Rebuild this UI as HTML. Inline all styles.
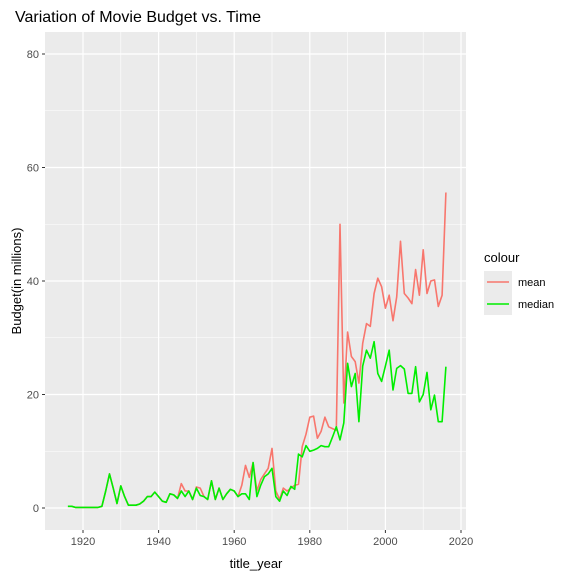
<!DOCTYPE html>
<html><head><meta charset="utf-8"><style>
body{margin:0;background:#fff;}
svg{display:block;font-family:"Liberation Sans",Arial,sans-serif;}
</style></head><body>
<svg id="chart" width="576" height="576">
<rect x="0" y="0" width="576" height="576" fill="#fff"/>
<text x="15" y="22" font-size="16" fill="#000">Variation of Movie Budget vs. Time</text>
<rect x="45" y="32" width="421" height="498" fill="#ebebeb"/>
<g id="grid"></g>
<g id="axes"></g>
<g id="series"></g>
<text x="256" y="568" font-size="13" text-anchor="middle" fill="#000">title_year</text>
<text transform="translate(21,281) rotate(-90)" font-size="13" text-anchor="middle" fill="#000">Budget(in millions)</text>
<g>
<text x="484" y="262" font-size="13" fill="#000">colour</text>
<g>
<rect x="484" y="271" width="28" height="22" fill="#ebebeb"/>
<line x1="487" y1="282" x2="509" y2="282" stroke="#f8766d" stroke-width="1.6"/>
<text x="518" y="286" font-size="11" fill="#000">mean</text></g>
<g>
<rect x="484" y="293" width="28" height="22" fill="#ebebeb"/>
<line x1="487" y1="304" x2="509" y2="304" stroke="#00ee00" stroke-width="1.6"/>
<text x="518" y="308" font-size="11" fill="#000">median</text></g>
</g>
</svg>
<script>
const years=[];for(let y=1916;y<=2016;y++)years.push(y);
const medianVals=[0.3,0.3,0.1,0.1,0.1,0.1,0.1,0.1,0.1,0.3,3,6,3.5,0.8,3.9,2,0.5,0.5,0.5,0.7,1.2,2,2,2.8,
2,1.2,1,2.5,2.3,1.7,3,2,3,1.5,
3.5,2.2,2,1.5,4.8,1.5,3.5,1.5,2.5,3.3,
3,2,2.5,2.5,1.5,8,2,4,5.5,6,
7,2,1.2,3,2.2,3.8,3.3,9.5,9,11,
10,10.2,10.5,11,10.8,10.8,12.5,14.3,12,15,
25.5,21.4,23.7,15.2,25,27.8,26.4,29.3,23.7,22.3,
25,27.8,20.8,24.6,25.1,24.5,20.2,20.2,24.9,18.7,
20,23.9,17.3,19.9,15.2,15.2,24.9];
const meanVals=[0.3,0.3,0.1,0.1,0.1,0.1,0.1,0.1,0.1,0.3,3,6,3.5,0.8,3.9,2,0.5,0.5,0.5,0.7,1.2,2,2,2.8,
2,1.2,1,2.5,2.3,1.7,4.3,3,3,1.5,
3.7,3.5,2,1.5,4.8,1.5,3.5,1.5,2.5,3.3,
3,2,4,7.5,5.4,8,3,5,6,7,
10.5,3,1.5,3.5,3,3.5,4,4.2,10.8,13,
16,16.2,12.3,13.5,16,14.3,14,13.7,50,18.5,
31,26.7,25.8,22,29,32.5,32,37.8,40.5,39,
35.2,37.5,33,37.2,47,37.8,37,36,42,37.5,
45.5,37.8,40,40.2,35.5,37.5,55.6];
const xTicks=[1920,1940,1960,1980,2000,2020];
const yTicks=[0,20,40,60,80];
const NS="http://www.w3.org/2000/svg";
const px=y=>83+(y-1920)*3.78;
const py=v=>508-v*5.675;
function mk(tag,attrs,parent){const e=document.createElementNS(NS,tag);for(const k in attrs)e.setAttribute(k,attrs[k]);parent.appendChild(e);return e;}
const grid=document.getElementById('grid'),axes=document.getElementById('axes'),series=document.getElementById('series');
for(let i=0;i<xTicks.length-1;i++){const m=(xTicks[i]+xTicks[i+1])/2;const l=mk('line',{x1:px(m),x2:px(m),y1:32,y2:530,stroke:'#fff','stroke-width':0.6},grid);
}
for(let i=0;i<yTicks.length-1;i++){const m=(yTicks[i]+yTicks[i+1])/2;const l=mk('line',{x1:45,x2:466,y1:py(m),y2:py(m),stroke:'#fff','stroke-width':0.6},grid);
}
xTicks.forEach(t=>{const l=mk('line',{x1:px(t),x2:px(t),y1:32,y2:530,stroke:'#fff','stroke-width':1.2},grid);

const k=mk('line',{x1:px(t),x2:px(t),y1:530,y2:533,stroke:'#333','stroke-width':1},axes);

const tx=mk('text',{x:px(t),y:545,'font-size':11,'text-anchor':'middle',fill:'#4d4d4d'},axes);tx.textContent=t;
});
yTicks.forEach(t=>{const l=mk('line',{x1:45,x2:466,y1:py(t),y2:py(t),stroke:'#fff','stroke-width':1.2},grid);

const k=mk('line',{x1:42,x2:45,y1:py(t),y2:py(t),stroke:'#333','stroke-width':1},axes);

const tx=mk('text',{x:39,y:py(t)+4,'font-size':11,'text-anchor':'end',fill:'#4d4d4d'},axes);tx.textContent=t;
});
function line(vals,color,name){const d=vals.map((v,i)=>(i?'L':'M')+px(years[i]).toFixed(1)+','+py(v).toFixed(1)).join('');
const p=mk('path',{d:d,fill:'none',stroke:color,'stroke-width':1.6,'stroke-linejoin':'round'},series);
}
line(meanVals,'#f8766d','mean-line');
line(medianVals,'#00ee00','median-line');
</script>
</body></html>
